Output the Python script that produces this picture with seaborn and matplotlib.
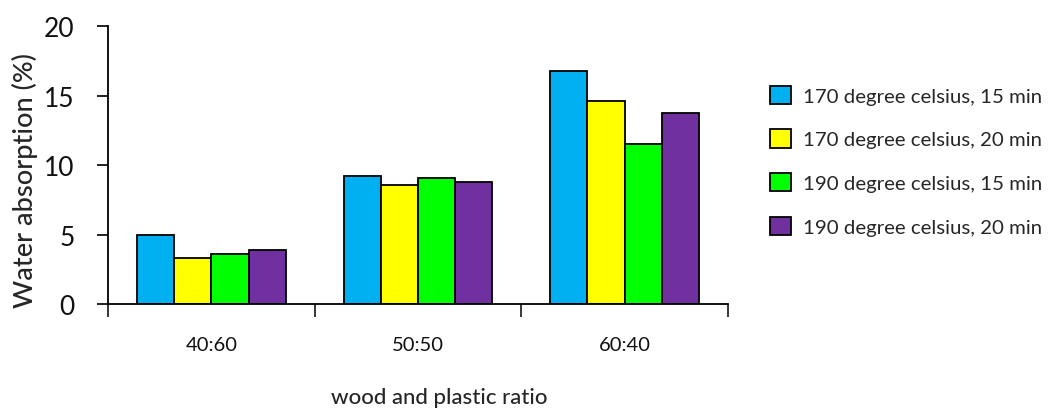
import numpy as np
import pandas as pd
import matplotlib
matplotlib.use('Agg')
import matplotlib.pyplot as plt
import seaborn as sns

# ── data
ratios = ['40:60', '50:50', '60:40']
conditions = ['170 degree celsius, 15 min', '170 degree celsius, 20 min',
              '190 degree celsius, 15 min', '190 degree celsius, 20 min']
c170_15 = [4.95, 9.2, 16.75]
c170_20 = [3.3, 8.6, 14.6]
c190_15 = [3.6, 9.05, 11.5]
c190_20 = [3.9, 8.75, 13.75]
colors = ['#00B0F0', '#FFFF00', '#00FF00', '#7030A0']

rows = []
for cond, vals in zip(conditions, [c170_15, c170_20, c190_15, c190_20]):
    for r, v in zip(ratios, vals):
        rows.append({'ratio': r, 'condition': cond, 'value': v})
df = pd.DataFrame(rows)

sns.set_style('white')
plt.rcParams['font.family'] = ['Lato', 'DejaVu Sans']

fig = plt.figure(figsize=(10.56, 4.10), dpi=100)
ax = fig.add_axes([0.1023, 0.256, 0.5871, 0.678])

sns.barplot(data=df, x='ratio', y='value', hue='condition', order=ratios,
            hue_order=conditions, palette=colors, saturation=1, width=0.72,
            gap=0, edgecolor='black', linewidth=1.3, ax=ax, legend=True)

ax.set_ylim(0, 20)
ax.set_xlim(-0.5, 2.5)
ax.set_yticks([0, 5, 10, 15, 20])
ax.tick_params(axis='y', labelsize=19, length=8, width=1.3, direction='out',
               left=True, pad=16, colors='#111111')

# category boundaries as ticks, labels on centers
ax.set_xticks([-0.5, 0.5, 1.5, 2.5])
ax.set_xticklabels([])
ax.tick_params(axis='x', which='major', length=9, width=1.3, direction='out',
               bottom=True)
ax.set_xticks([0, 1, 2], minor=True)
ax.set_xticklabels(ratios, minor=True)
ax.tick_params(axis='x', which='minor', length=0, pad=23, labelsize=14.5,
               colors='#111111')

for s in ['top', 'right']:
    ax.spines[s].set_visible(False)
for s in ['left', 'bottom']:
    ax.spines[s].set_linewidth(1.3)
    ax.spines[s].set_color('black')

ax.set_xlabel('wood and plastic ratio', fontsize=16, fontweight='medium')
ax.xaxis.set_label_coords(0.535, -0.30)
ax.set_ylabel('Water absorption (%)', fontsize=19.5, fontweight='medium')
ax.yaxis.set_label_coords(-0.113, 0.446)

leg = ax.legend(loc='upper left', bbox_to_anchor=(1.055, 0.815), frameon=False,
                fontsize=14.7, handlelength=1.0, handleheight=1.0,
                handletextpad=0.6, labelspacing=1.2, borderaxespad=0)
for h in leg.legend_handles:
    h.set_edgecolor('black')
    h.set_linewidth(1.3)

plt.savefig('out.png', dpi=100)
